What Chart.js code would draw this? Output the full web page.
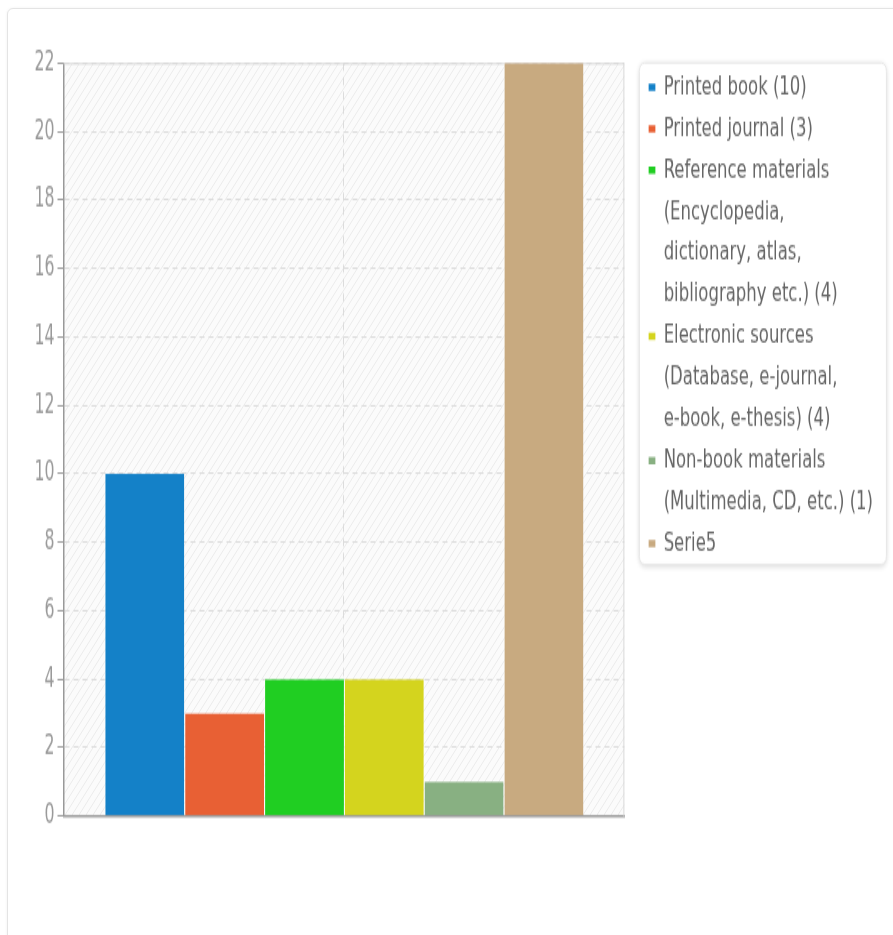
<!DOCTYPE html>
<html>
<head>
<meta charset="utf-8">
<script src="https://cdn.jsdelivr.net/npm/chart.js@4.4.1/dist/chart.umd.min.js"></script>
<style>
  html, body { margin: 0; padding: 0; background: #fff; }
  #wrap { position: relative; width: 893px; height: 935px; overflow: hidden; }
  .card {
    position: absolute; left: 7px; top: 8px; width: 900px; height: 940px;
    border: 1px solid #e4e4e4; border-radius: 6px;
    box-shadow: 0 0 3px rgba(0, 0, 0, 0.06);
  }
  /* the reference is stretched vertically, so the canvas is too */
  #chart { position: absolute; left: 0; top: 0; transform: scaleY(1.601); transform-origin: 0 0; }
</style>
</head>
<body>
<div id="wrap">
  <div class="card"></div>
  <canvas id="chart" width="893" height="584" style="width:893px;height:584px"></canvas>
</div>
<script>
const categories = [""];

const seriesNames = [
  "Printed book (10)",
  "Printed journal (3)",
  "Reference materials (Encyclopedia, dictionary, atlas, bibliography etc.) (4)",
  "Electronic sources (Database, e-journal, e-book, e-thesis) (4)",
  "Non-book materials (Multimedia, CD, etc.) (1)",
  "Serie5"
];

// legend text as it wraps in the picture
const legendLines = [
  ["Printed book (10)"],
  ["Printed journal (3)"],
  ["Reference materials", "(Encyclopedia,", "dictionary, atlas,", "bibliography etc.) (4)"],
  ["Electronic sources", "(Database, e-journal,", "e-book, e-thesis) (4)"],
  ["Non-book materials", "(Multimedia, CD, etc.) (1)"],
  ["Serie5"]
];

const seriesValues = [10, 3, 4, 4, 1, 22];

const seriesColors = ["#1481c8", "#e86034", "#20ce22", "#d4d41e", "#88b082", "#c8aa80"];

const yMin = 0;
const yMax = 22;
const yStep = 2;

const LEGEND_FONT = 16.5;
const LEGEND_LH = 25.9;
const TITLE_H = 7;

// light diagonal hatch for the plot background
const hatch = (() => {
  const c = document.createElement("canvas");
  c.width = 7;
  c.height = 7;
  const g = c.getContext("2d");
  g.fillStyle = "#fbfbfb";
  g.fillRect(0, 0, 7, 7);
  g.strokeStyle = "#ececec";
  g.lineWidth = 1;
  g.beginPath();
  g.moveTo(-1, 8);
  g.lineTo(8, -1);
  g.stroke();
  return c;
})();

const backdrop = {
  id: "backdrop",
  beforeDraw(chart) {
    const { ctx, chartArea: a, legend } = chart;
    ctx.save();
    ctx.fillStyle = ctx.createPattern(hatch, "repeat");
    ctx.fillRect(a.left, a.top, a.right - a.left, a.bottom - a.top);

    // legend panel
    const lines = legendLines.reduce((n, l) => n + l.length, 0);
    const top = legend.top;
    const bottom = legend.top + TITLE_H + LEGEND_FONT / 2 + (lines - 1) * LEGEND_LH + 13;
    const left = legend.left - 9;
    const right = legend.left + 238;
    ctx.shadowColor = "rgba(0, 0, 0, 0.18)";
    ctx.shadowBlur = 4;
    ctx.shadowOffsetY = 1;
    ctx.fillStyle = "#fff";
    ctx.beginPath();
    ctx.roundRect(left, top, right - left, bottom - top, 5);
    ctx.fill();
    ctx.shadowColor = "transparent";
    ctx.strokeStyle = "#e8e8e8";
    ctx.lineWidth = 1;
    ctx.stroke();
    ctx.restore();
  },
  beforeDatasetsDraw(chart) {
    const { ctx, chartArea: a } = chart;
    ctx.save();
    ctx.strokeStyle = "#d9d9d9";
    ctx.lineWidth = 1;
    ctx.beginPath();
    ctx.moveTo(a.left, a.top + 0.5);
    ctx.lineTo(a.right - 0.5, a.top + 0.5);
    ctx.lineTo(a.right - 0.5, a.bottom);
    ctx.stroke();
    ctx.restore();
  }
};

const datasets = seriesNames.map((name, i) => ({
  label: name,
  data: [seriesValues[i]],
  backgroundColor: seriesColors[i],
  borderColor: "rgba(255, 255, 255, 0.55)",
  borderWidth: { left: 1 },
  categoryPercentage: 0.854,
  barPercentage: 1
}));

new Chart(document.getElementById("chart"), {
  type: "bar",
  data: { labels: categories, datasets },
  plugins: [backdrop],
  options: {
    responsive: false,
    animation: false,
    devicePixelRatio: 1,
    layout: { padding: { left: 23.5, top: 39.3, right: 10, bottom: 66.3 } },
    scales: {
      x: {
        offset: true,
        grid: { offset: false, color: "#dcdcdc", drawTicks: false },
        border: { display: true, color: "#9c9c9c", width: 1.5, dash: [5, 4] },
        ticks: { display: false },
        afterFit(scale) { scale.height = 8; }
      },
      y: {
        min: yMin,
        max: yMax,
        ticks: {
          stepSize: yStep,
          color: "#9a9a9a",
          padding: 3,
          font: { family: "DejaVu Sans Condensed", size: 17.5 }
        },
        grid: {
          color: "#dcdcdc",
          tickLength: 6,
          tickColor: "#9c9c9c",
          tickWidth: 1,
          tickBorderDash: []
        },
        border: { display: true, color: "#999", width: 1.5, dash: [5, 4] },
        afterFit(scale) { scale.width = 40; }
      },
      gap: {
        type: "linear",
        position: "right",
        display: true,
        grid: { display: false },
        border: { display: false },
        ticks: { display: false },
        afterFit(scale) { scale.width = 24; }
      }
    },
    plugins: {
      legend: {
        position: "right",
        align: "start",
        maxWidth: 400,
        title: {
          display: true,
          text: "",
          font: { size: 1, lineHeight: 1 },
          padding: { top: TITLE_H - 1, bottom: 0 }
        },
        labels: {
          boxWidth: 7,
          boxHeight: 4.5,
          padding: 0,
          color: "#000",
          font: { family: "DejaVu Sans", size: LEGEND_FONT, lineHeight: LEGEND_LH / LEGEND_FONT },
          generateLabels(chart) {
            return chart.data.datasets.map((ds, i) => ({
              text: legendLines[i],
              fillStyle: seriesColors[i],
              strokeStyle: seriesColors[i],
              lineWidth: 0,
              hidden: !chart.isDatasetVisible(i),
              datasetIndex: i
            }));
          }
        }
      },
      tooltip: { enabled: true }
    }
  }
});
</script>
</body>
</html>
